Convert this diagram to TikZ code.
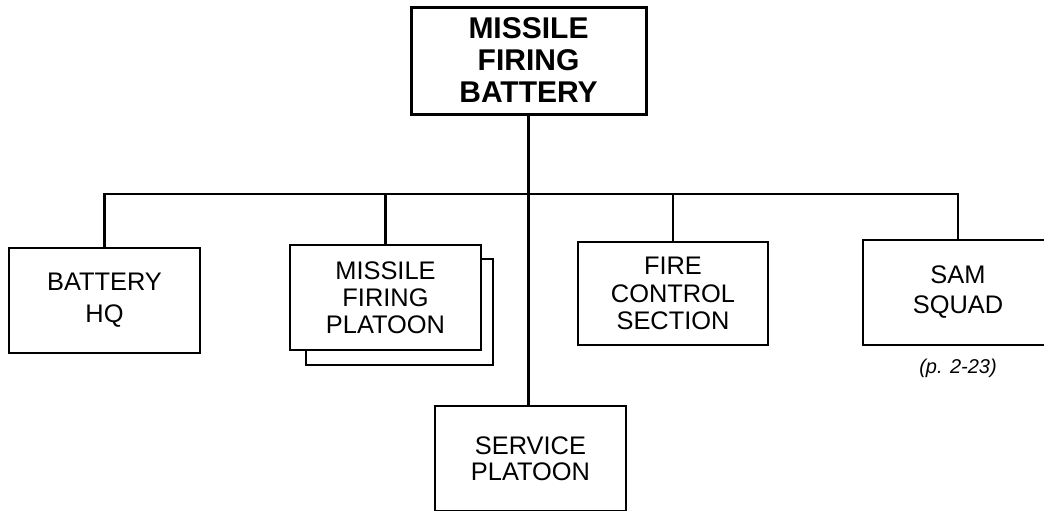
\documentclass[tikz,border=0pt]{standalone}
\usepackage{fontspec}
\setmainfont{Liberation Sans}
\usepackage{tikz}
\usetikzlibrary{positioning, calc}
\tikzset{
  unit/.style={
    draw=black, fill=white, line width=1.4pt, align=center, inner sep=0pt,
    minimum width=#1, minimum height=52.5pt,
    font=\fontsize{12.7}{13.6}\selectfont
  },
  unit/.default=95.5pt,
  leading/.style={font=\fontsize{12.7}{#1}\selectfont},
  cmdbox/.style={
    draw=black, fill=white, line width=1.5pt, align=center, inner sep=0pt,
    minimum width=117.5pt, minimum height=53.5pt,
    font=\fontsize{15}{16}\selectfont\bfseries
  },
  link/.style={line width=1.2pt, draw=black},
  note/.style={font=\fontsize{10}{11}\selectfont\itshape}
}
\begin{document}
\begin{tikzpicture}[x=0.5pt,y=-0.5pt]
  \clip (0,0) rectangle (1044,510);
  \fill[white] (0,0) rectangle (1044,510);
  % command
  \node[cmdbox] (bty) at (528.5,60.5) {MISSILE\\FIRING\\BATTERY};
  \coordinate (bar) at (528,194);
  % subordinate units
  \node[unit,leading=16pt] (hq) at (104.5,300.5) {BATTERY\\HQ};
  \node[unit=93.5pt,minimum height=53pt] (mfpback) at (399.5,312) {};
  \node[unit] (mfp) at (385.5,297.5) {MISSILE\\FIRING\\PLATOON};
  \node[unit=95pt,minimum height=51.5pt] (fcs) at (673,293.5) {FIRE\\CONTROL\\SECTION};
  \node[unit=95pt,leading=15pt] (sam) at (958,292.5) {SAM\\SQUAD};
  \node[note,below=3pt of sam] (samref) {(p. 2-23)};
  \node[unit,leading=13pt] (svc) at (530.5,458.5) {SERVICE\\PLATOON};
  % lines
  \draw[link] (bty.south) -- (bty.south |- svc.north);
  \draw[link] (hq.north) -- (hq.north |- bar) -- (sam.north |- bar) -- (sam.north);
  \draw[link] (mfp.north) -- (mfp.north |- bar);
  \draw[link] (fcs.north) -- (fcs.north |- bar);
\end{tikzpicture}
\end{document}
